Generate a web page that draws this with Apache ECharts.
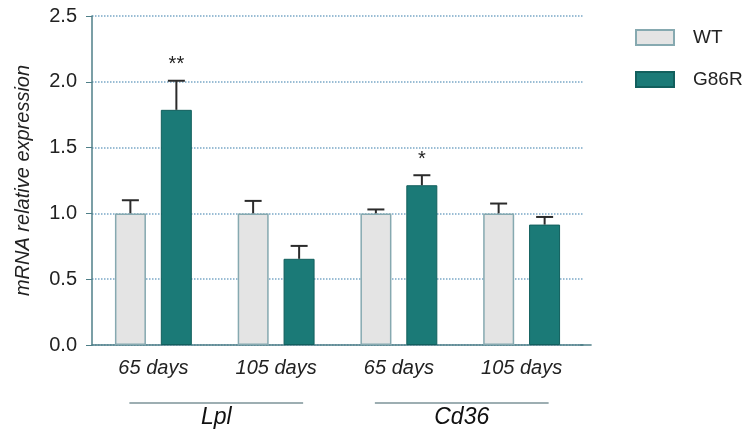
<!DOCTYPE html>
<html><head><meta charset="utf-8">
<script src="https://cdn.jsdelivr.net/npm/echarts@6/dist/echarts.min.js"></script>
<style>html,body{margin:0;padding:0;background:#fff}#c{width:750px;height:434px}</style>
</head><body><div id="c"></div>
<script>
var categories = ['65 days', '105 days', '65 days', '105 days'];
var groups = ['Lpl', 'Cd36'];
var wtValues = [1.0, 1.0, 1.0, 1.0];
var wtErrTop = [1.10, 1.095, 1.03, 1.075];
var g86rValues = [1.787, 0.655, 1.214, 0.915];
var g86rErrTop = [2.008, 0.753, 1.29, 0.973];
var g86rStars = ['**', '', '*', ''];
var yTicks = [0, 0.5, 1.0, 1.5, 2.0, 2.5];

var chart = echarts.init(document.getElementById('c'));
var BW = 31, OFF = 23;
var FONT = '"Liberation Sans", Arial, sans-serif';
function errSeries(name, vals, tops, off, stars) {
  return {
    type: 'custom', name: name + '_err', silent: true, z: 5,
    data: vals.map(function (v, i) { return [i, v, tops[i]]; }),
    renderItem: function (params, api) {
      var i = api.value(0);
      var p0 = api.coord([i, api.value(1)]);
      var p1 = api.coord([i, api.value(2)]);
      var x = p0[0] + off;
      var ch = [
        { type: 'line', shape: { x1: x, y1: p0[1], x2: x, y2: p1[1] }, style: { stroke: '#2b2b2b', lineWidth: 2 } },
        { type: 'line', shape: { x1: x - 8.5, y1: p1[1], x2: x + 8.5, y2: p1[1] }, style: { stroke: '#2b2b2b', lineWidth: 2 } }
      ];
      if (stars && stars[i]) {
        ch.push({ type: 'text', style: { text: stars[i], x: x, y: p1[1] - 6, textAlign: 'center', textVerticalAlign: 'bottom', font: '20px ' + FONT, fill: '#222' } });
      }
      return { type: 'group', children: ch };
    }
  };
}
chart.setOption({
  animation: false,
  grid: { left: 92, top: 16, width: 491, height: 329 },
  legend: {
    orient: 'vertical', left: 635, top: 28, padding: 0, itemWidth: 38, itemHeight: 15, itemGap: 23,
    icon: 'rect',
    data: ['WT', 'G86R'],
    textStyle: { fontFamily: FONT, fontSize: 19, lineHeight: 15, color: '#222', padding: [0, 0, 0, 14] }
  },
  xAxis: {
    type: 'category', data: categories,
    axisLine: { lineStyle: { color: '#4f7f88', width: 1.5 } },
    axisTick: { alignWithLabel: true, length: 6, lineStyle: { color: '#4f7f88' } },
    axisLabel: { margin: 13, fontFamily: FONT, fontStyle: 'italic', fontSize: 20, color: '#222' }
  },
  yAxis: {
    type: 'value', min: 0, max: 2.5, interval: 0.5,
    name: 'mRNA relative expression', nameLocation: 'middle', nameGap: 59,
    nameTextStyle: { fontFamily: FONT, fontStyle: 'italic', fontSize: 20, color: '#222' },
    axisLine: { show: true, lineStyle: { color: '#4f7f88', width: 1.5 } },
    axisTick: { show: true, length: 6, lineStyle: { color: '#4f7f88' } },
    axisLabel: { margin: 15, fontFamily: FONT, fontSize: 20, color: '#222',
      formatter: function (v) { return yTicks.indexOf(v) >= 0 ? v.toFixed(1) : ''; } },
    splitLine: { show: true, lineStyle: { color: '#7aa8c6', type: 'dotted', width: 1.5 } }
  },
  series: [
    { name: 'WT', type: 'bar', data: wtValues, barWidth: BW, barGap: '48%',
      itemStyle: { color: '#e4e4e4', borderColor: '#86a9b0', borderWidth: 1.5 } },
    { name: 'G86R', type: 'bar', data: g86rValues, barWidth: BW, barGap: '48%',
      itemStyle: { color: '#1b7a77', borderColor: '#125f5d', borderWidth: 1 } },
    errSeries('WT', wtValues, wtErrTop, -OFF, null),
    errSeries('G86R', g86rValues, g86rErrTop, OFF, g86rStars)
  ]
});
// x-axis line extension, group underlines and labels
var els = [];
var xEnd = chart.convertToPixel({ xAxisIndex: 0 }, categories.length - 1) + 70;
var y0 = chart.convertToPixel({ yAxisIndex: 0 }, 0);
els.push({ type: 'line', shape: { x1: 580, y1: y0, x2: xEnd, y2: y0 }, style: { stroke: '#4f7f88', lineWidth: 1.5 } });
for (var g = 0; g < groups.length; g++) {
  var a = chart.convertToPixel({ xAxisIndex: 0 }, g * 2);
  var b = chart.convertToPixel({ xAxisIndex: 0 }, g * 2 + 1);
  var x1 = a - 24, x2 = b + 27, yl = 403;
  els.push({ type: 'line', shape: { x1: x1, y1: yl, x2: x2, y2: yl }, style: { stroke: '#3c5f66', lineWidth: 1.2 } });
  els.push({ type: 'text', style: { text: groups[g], x: (x1 + x2) / 2, y: yl + 15, textAlign: 'center', textVerticalAlign: 'middle', font: 'italic 23px ' + FONT, fill: '#111' } });
}
chart.setOption({ graphic: els });
</script></body></html>
